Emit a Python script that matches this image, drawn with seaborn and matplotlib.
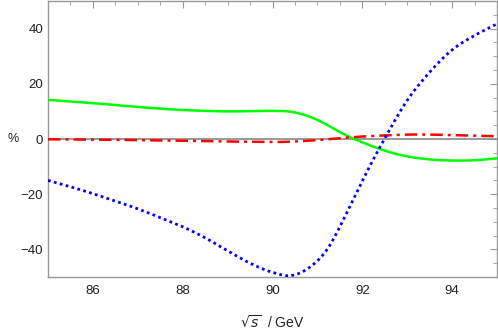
import numpy as np
import pandas as pd
import seaborn as sns
import matplotlib.pyplot as plt
from matplotlib.ticker import MultipleLocator

sns.set_style('white')
plt.rcParams['font.family'] = ['Liberation Sans', 'DejaVu Sans']
plt.rcParams['mathtext.fontset'] = 'dejavusans'

# 녹색 실선
green_x = [85, 85.5, 86, 86.5, 87, 87.5, 88, 88.5, 89, 89.5, 90, 90.4, 90.7, 91, 91.25,
           91.5, 91.75, 92, 92.25, 92.5, 92.75, 93, 93.5, 94, 94.5, 95]
green_y = [14.2, 13.6, 13.0, 12.3, 11.6, 11.0, 10.5, 10.2, 10.0, 10.1, 10.2, 9.9, 8.8, 6.9, 4.8,
           2.5, 0.5, -1.2, -2.8, -4.2, -5.4, -6.3, -7.4, -7.8, -7.7, -7.0]

# 빨간 일점쇄선
red_x = [85, 86, 87, 88, 89, 89.5, 90, 90.5, 91, 91.5, 92, 92.5, 93, 93.5, 94, 94.5, 95]
red_y = [-0.1, -0.2, -0.4, -0.6, -0.9, -1.0, -1.1, -0.9, -0.4, 0.3, 0.9, 1.3, 1.6, 1.6, 1.4, 1.2, 1.0]

# 파란 점선
blue_x = [85, 85.5, 86, 86.5, 87, 87.5, 88, 88.5, 89, 89.5, 90, 90.4, 90.8, 91.25, 91.5, 91.7,
          91.95, 92.2, 92.5, 93, 93.5, 94, 94.5, 95]
blue_y = [-15, -17.3, -19.8, -22.5, -25.3, -28.5, -31.8, -35.8, -40.5, -45, -48.3, -49.5, -46.8, -39.2, -31.8, -25.2,
          -16.8, -8.8, 0.2, 14, 24.2, 32.3, 37.5, 41.7]


def smooth(x, y, n=400):
    # 점들을 부드럽게 잇기 위한 3차 에르미트 보간
    x = np.asarray(x, float)
    y = np.asarray(y, float)
    xs = np.linspace(x[0], x[-1], n)
    h = np.diff(x)
    d = np.diff(y) / h
    m = np.zeros_like(y)
    m[0], m[-1] = d[0], d[-1]
    for i in range(1, len(x) - 1):
        m[i] = (d[i - 1] * h[i] + d[i] * h[i - 1]) / (h[i] + h[i - 1])
    idx = np.clip(np.searchsorted(x, xs) - 1, 0, len(h) - 1)
    t = (xs - x[idx]) / h[idx]
    h00 = 2 * t**3 - 3 * t**2 + 1
    h10 = t**3 - 2 * t**2 + t
    h01 = -2 * t**3 + 3 * t**2
    h11 = t**3 - t**2
    ys = h00 * y[idx] + h10 * h[idx] * m[idx] + h01 * y[idx + 1] + h11 * h[idx] * m[idx + 1]
    return pd.DataFrame({'x': xs, 'y': ys})


fig = plt.figure(figsize=(4.98, 3.32), dpi=100)
ax = fig.add_axes([48 / 498, 55 / 332, 449 / 498, 276 / 332])

ax.axhline(0, color='#888888', lw=1.2, zorder=1)

g = smooth(green_x, green_y)
r = smooth(red_x, red_y)
b = smooth(blue_x, blue_y)
sns.lineplot(data=g, x='x', y='y', color='#00ff00', lw=1.8, ax=ax, zorder=3)
sns.lineplot(data=r, x='x', y='y', color='#ff0000', lw=1.8, ax=ax, zorder=4).lines[-1].set_dashes([5, 2, 1.2, 2])
sns.lineplot(data=b, x='x', y='y', color='#0000ff', lw=2.0, ax=ax, zorder=5).lines[-1].set_dashes([1.0, 1.2])

ax.set_xlim(85, 95)
ax.set_ylim(-50, 50)
ax.xaxis.set_minor_locator(MultipleLocator(0.5))
ax.yaxis.set_minor_locator(MultipleLocator(5))
ax.set_xticks([86, 88, 90, 92, 94])
ax.set_yticks([-40, -20, 0, 20, 40])
ax.set_yticklabels(['\u221240', '\u221220', '0', '20', '40'])

ax.tick_params(which='both', direction='in', top=True, right=True, color='#999999',
               labelsize=9.5, labelcolor='#222222')
ax.tick_params(which='major', length=5, width=0.8)
ax.tick_params(which='minor', length=3, width=0.6)
ax.tick_params(axis='x', pad=6)
for s in ax.spines.values():
    s.set_color('#999999')
    s.set_linewidth(1.0)

ax.set_xlabel(r'$\sqrt{s}$  / GeV', fontsize=10, color='#222222', labelpad=12)
ax.set_ylabel('%', fontsize=9, color='#222222', rotation=0, va='center', ha='left')
ax.yaxis.set_label_coords(-41 / 449, 0.5)

plt.savefig('out.png', dpi=100)
